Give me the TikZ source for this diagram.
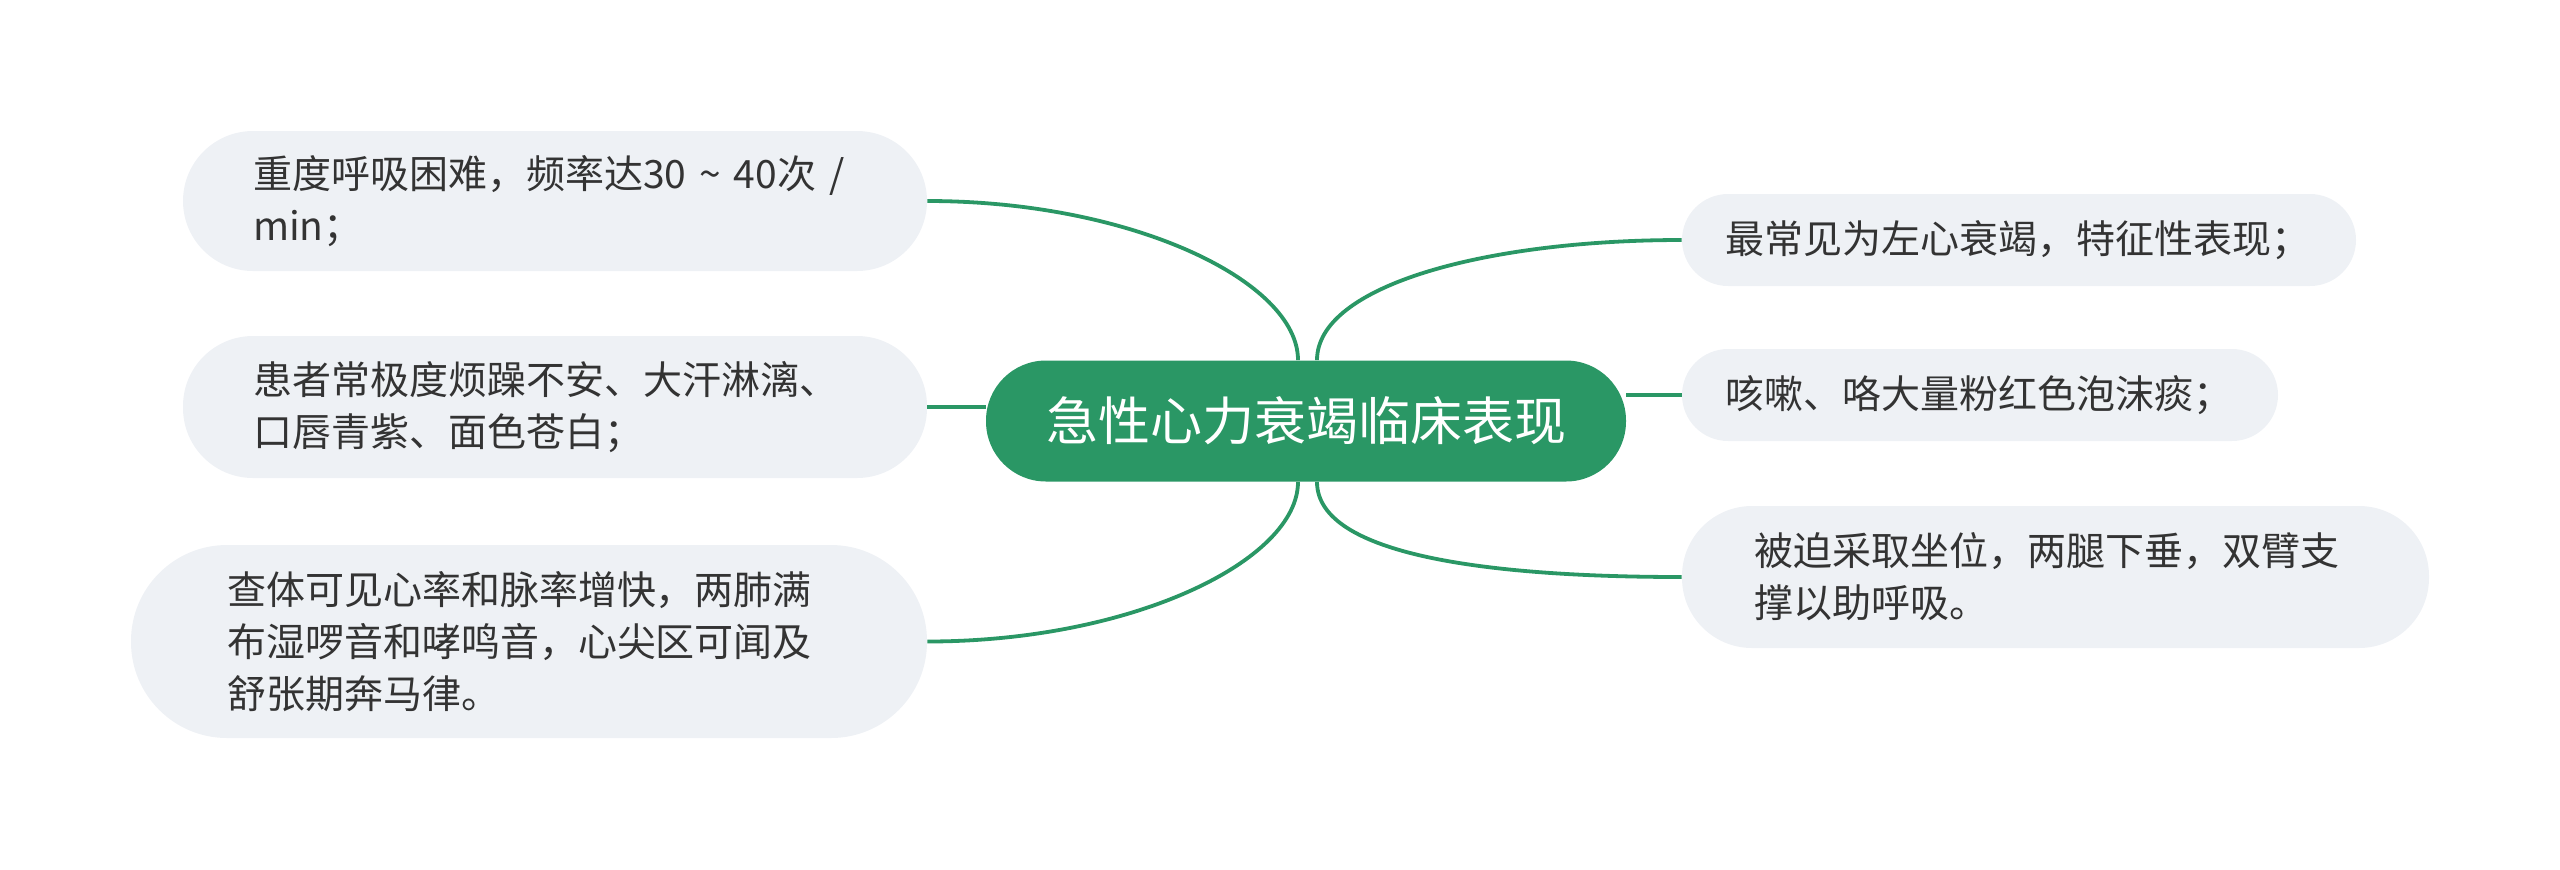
\documentclass[tikz,border=0pt]{standalone}
\usepackage{fontspec}
\setmainfont{Noto Sans CJK SC}
\usepackage{tikz}
\definecolor{mapgreen}{RGB}{42,151,101}
\definecolor{leafgray}{RGB}{238,241,245}
\definecolor{leaftext}{RGB}{51,51,51}

\begin{document}
\begin{tikzpicture}[x=0.5pt,y=0.5pt,
	root/.style={fill=mapgreen,text=white,inner sep=0pt,font=\fontsize{26}{30}\selectfont},
	leaf/.style={fill=leafgray,text=leaftext,inner sep=0pt,text width=302pt,align=left,font=\fontsize{19.5}{26}\selectfont},
	branch/.style={draw=mapgreen,line width=1.9pt,out looseness=.5,in looseness=1.3}]
	\useasboundingbox (0,0) rectangle (2560,-869);
	\node[root,minimum width=320pt,minimum height=60.5pt,rounded corners=30pt] (c) at (1306,-421) {急性心力衰竭临床表现};
	%
	\node[leaf,minimum width=372pt,minimum height=70pt,rounded corners=35pt] (l1) at (555,-201) {重度呼吸困难，频率达30 \textasciitilde{} 40次 /\\min；};
	\node[leaf,minimum width=372pt,minimum height=71pt,rounded corners=35pt] (l2) at (555,-407) {患者常极度烦躁不安、大汗淋漓、\\口唇青紫、面色苍白；};
	\node[leaf,minimum width=398pt,minimum height=96.5pt,rounded corners=48pt] (l3) at (529,-641.5) {查体可见心率和脉率增快，两肺满\\布湿啰音和哮鸣音，心尖区可闻及\\舒张期奔马律。};
	\node[leaf,text width=294pt,minimum width=337pt,minimum height=46pt,rounded corners=23pt] (r1) at (2019,-240) {最常见为左心衰竭，特征性表现；};
	\node[leaf,text width=255pt,minimum width=298pt,minimum height=46pt,rounded corners=23pt] (r2) at (1980,-395) {咳嗽、咯大量粉红色泡沫痰；};
	\node[leaf,text width=301.5pt,minimum width=373.5pt,minimum height=71pt,rounded corners=35pt] (r3) at (2055.5,-577) {被迫采取坐位，两腿下垂，双臂支\\撑以助呼吸。};
	%
	\coordinate (c-nl) at ([xshift=-4pt]c.north);
	\coordinate (c-nr) at ([xshift=5.5pt]c.north);
	\coordinate (c-sl) at ([xshift=-4pt]c.south);
	\coordinate (c-sr) at ([xshift=5.5pt]c.south);
	%
	\draw [branch] (c-nl) to[out=90,in=0] (l1.east);
	\draw [branch] (l2.east) -- (l2.east -| c.west);
	\draw [branch] (c-sl) to[out=-90,in=0] (l3.east);
	\draw [branch] (c-nr) to[out=90,in=180] (r1.west);
	\draw [branch] (c.east |- r2.west) -- (r2.west);
	\draw [branch] (c-sr) to[out=-90,in=180] (r3.west);
\end{tikzpicture}
\end{document}
